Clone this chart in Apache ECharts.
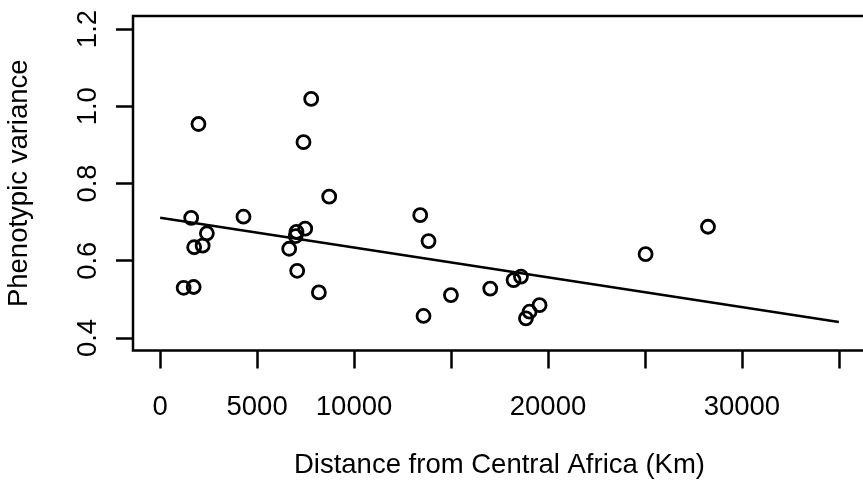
<!DOCTYPE html>
<html>
<head>
<meta charset="utf-8">
<script src="https://cdn.jsdelivr.net/npm/echarts@6/dist/echarts.min.js"></script>
<style>
html,body{margin:0;padding:0;background:#fff;}
#chart{width:863px;height:481px;}
</style>
</head>
<body>
<div id="chart"></div>
<script>
// Distance from Central Africa (Km)
var distanceKm = [1212, 1728, 1599, 1976, 1754, 2192, 2409, 4297, 6654, 7031, 6990, 7067, 7480, 7392, 7789, 8186, 8718,
  13412, 13840, 13582, 14995, 17023, 18225, 18606, 18864, 19050, 19566, 25034, 28252];
// Phenotypic variance
var phenoVar = [0.530, 0.532, 0.711, 0.954, 0.635, 0.639, 0.671, 0.714, 0.631, 0.675, 0.664, 0.574, 0.683, 0.907, 1.019, 0.518, 0.766,
  0.718, 0.651, 0.457, 0.511, 0.528, 0.550, 0.559, 0.451, 0.468, 0.485, 0.617, 0.688];
// Regression line endpoints
var fitX = [0, 35000];
var fitY = [0.7115, 0.4414];
// Tick marks and labels
var xTicks = [0, 5000, 10000, 15000, 20000, 25000, 30000, 35000];
var xTickLabels = [0, 5000, 10000, 20000, 30000];
var yTicks = [0.4, 0.6, 0.8, 1.0, 1.2];

var font = 'Liberation Sans, Arial, Helvetica, sans-serif';
var chart = echarts.init(document.getElementById('chart'), null, {renderer: 'canvas'});

chart.setOption({
  animation: false,
  backgroundColor: '#fff',
  grid: {
    left: 133, top: 16, width: 733, height: 334.5,
    show: true, borderColor: '#000', borderWidth: 2.5, backgroundColor: 'transparent',
    containLabel: false,
    outerBoundsMode: 'none'
  },
  xAxis: {
    type: 'value',
    min: -1400, max: 36400,
    splitLine: {show: false},
    axisLine: {show: false, onZero: false},
    axisTick: {show: true, customValues: xTicks, length: 18, inside: false, lineStyle: {color: '#000', width: 2.5}},
    axisLabel: {
      customValues: xTickLabels, margin: 43,
      fontFamily: font, fontSize: 27.5, color: '#000',
      formatter: function (v) { return String(v); }
    },
    name: 'Distance from Central Africa (Km)',
    nameLocation: 'middle', nameGap: 101,
    nameTextStyle: {fontFamily: font, fontSize: 27.5, color: '#000'}
  },
  yAxis: {
    type: 'value',
    min: 0.3676, max: 1.2337,
    splitLine: {show: false},
    axisLine: {show: false, onZero: false},
    axisTick: {show: true, customValues: yTicks, length: 17, inside: false, lineStyle: {color: '#000', width: 2.5}},
    axisLabel: {
      customValues: yTicks, rotate: 90, margin: 31,
      fontFamily: font, fontSize: 27.5, color: '#000',
      formatter: function (v) { return v.toFixed(1); }
    },
    name: 'Phenotypic variance',
    nameLocation: 'middle', nameGap: 100, nameRotate: 90,
    nameTextStyle: {fontFamily: font, fontSize: 27.5, color: '#000'}
  },
  series: [
    {
      type: 'line',
      data: fitX.map(function (x, i) { return [x, fitY[i]]; }),
      showSymbol: false,
      lineStyle: {color: '#000', width: 2.5},
      silent: true,
      z: 2
    },
    {
      type: 'scatter',
      data: distanceKm.map(function (x, i) { return [x, phenoVar[i]]; }),
      symbol: 'circle',
      symbolSize: 13,
      itemStyle: {color: 'rgba(0,0,0,0)', borderColor: '#000', borderWidth: 2.8, opacity: 1},
      z: 3
    }
  ]
});
</script>
</body>
</html>
